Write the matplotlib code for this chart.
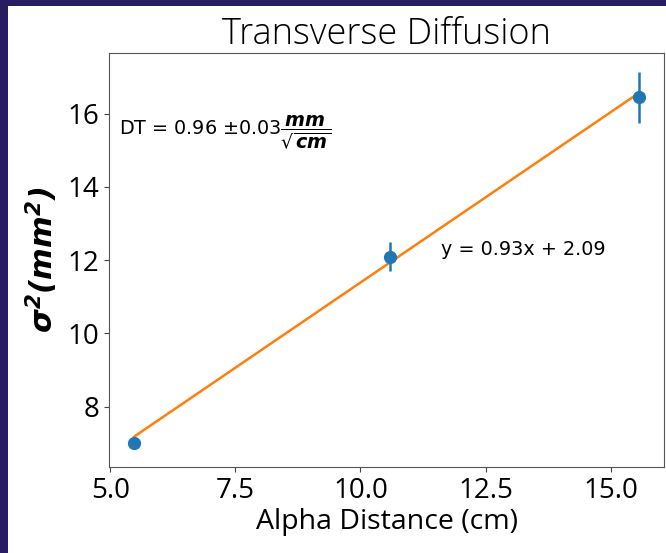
import numpy as np
import matplotlib.pyplot as plt
from matplotlib.patches import Rectangle

# measured points
alpha_dist = [5.48, 10.59, 15.56]      # cm
sigma_sq = [7.02, 12.10, 16.44]        # mm^2
sigma_err = [0.15, 0.40, 0.70]
# linear fit y = m x + b
fit_m, fit_b = 0.93, 2.09

plt.rcParams['font.family'] = ['Open Sans', 'DejaVu Sans']

fig = plt.figure(figsize=(6.66, 5.53), dpi=100, facecolor='#271d60')
# slide background showing at the left/top edge
fig.patches.append(Rectangle((8/666, 0), 1, (553-6)/553, transform=fig.transFigure,
                             facecolor='white', edgecolor='none', zorder=-5))
ax = fig.add_axes([109/666, 86/553, (664-109)/666, (467-53)/553])

x = np.array(alpha_dist)
ax.plot(x, fit_m*x + fit_b, color='#ff7f0e', lw=1.8, zorder=2)
ax.errorbar(alpha_dist, sigma_sq, yerr=sigma_err, fmt='o', color='#1f77b4',
            ms=8.5, elinewidth=1.8, zorder=3)

ax.text(5.18, 15.5, r'DT = 0.96 $\pm$0.03$\dfrac{\mathbfit{mm}}{\sqrt{\mathbfit{cm}}}$',
        fontsize=13.8, family='DejaVu Sans', va='center')
ax.text(11.6, 12.28, 'y = 0.93x + 2.09', fontsize=13.8, family='DejaVu Sans', va='center')

ax.set_title('Transverse Diffusion', fontsize=26, fontweight='light', pad=4)
ax.set_xlabel('Alpha Distance (cm)', fontsize=20.5, labelpad=2)
ax.set_ylabel(r'$\mathbfit{\sigma^2 (mm^2)}$', fontsize=22, labelpad=5)
ax.set_xticks([5.0, 7.5, 10.0, 12.5, 15.0])
ax.set_yticks([8, 10, 12, 14, 16])
ax.tick_params(labelsize=20, color='#444444')
for s in ax.spines.values():
    s.set_color('#555555')

fig.savefig('out.png', dpi=100, facecolor=fig.get_facecolor())
